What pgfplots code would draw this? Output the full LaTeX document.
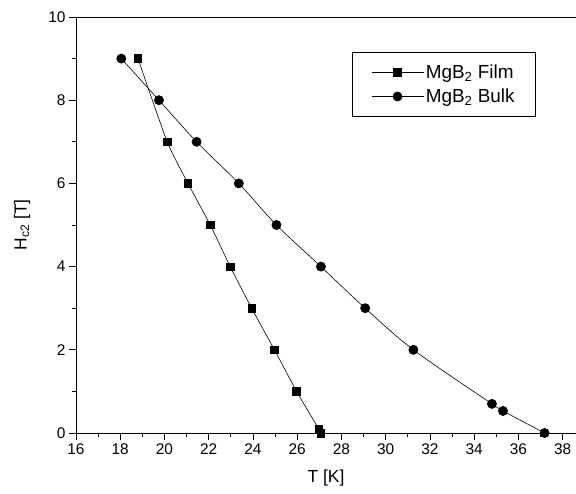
\documentclass[border=0pt]{standalone}
\usepackage{fontspec}
\setmainfont{Liberation Sans}
\usepackage{pgfplots}
\pgfplotsset{compat=1.18}
\begin{document}
\begin{tikzpicture}
\useasboundingbox (-76bp,-61bp) rectangle (500bp,433bp);
\begin{axis}[
  scale only axis, width=500bp, height=416bp,
  anchor=south west, at={(0,0)},
  xmin=16, xmax=38.6, ymin=0, ymax=10,
  axis x line*=box, axis y line*=left,
  xtick={16,18,...,38}, ytick={0,2,...,10},
  minor tick num=1,
  xtick pos=bottom, ytick pos=left,
  tick align=outside,
  major tick length=7bp, minor tick length=4bp,
  axis line style={line width=0.9pt},
  every tick/.style={line width=0.8pt, black},
  /pgf/number format/assume math mode=true,
  tick label style={font=\fontsize{15.5}{17}\selectfont},
  label style={font=\fontsize{17.5}{19}\selectfont},
  xlabel={T [K]},
  ylabel={H\textsubscript{c2} [T]},
  xlabel style={at={(axis description cs:0.5,-0.107)}, anchor=center},
  ylabel style={at={(axis description cs:-0.108,0.5)}, anchor=center},
  legend style={at={(0.92,0.915)}, anchor=north east, draw=black, line width=0.7pt,
    font=\fontsize{19}{21}\selectfont, inner xsep=19bp, inner ysep=10bp, row sep=5bp,
    /tikz/every even column/.append style={column sep=0bp}},
  legend cell align=left,
  legend image code/.code={
    \draw[mark repeat=2,mark phase=2,#1] plot coordinates {(0bp,0bp) (26bp,0bp) (52bp,0bp)};},
]
\addplot[black, line width=0.6pt, smooth, tension=0.3, mark=square*, mark size=3.8bp,
  mark options={solid, fill=black}] coordinates {
(18.8,9) (20.12,7) (21.06,6) (22.07,5) (22.97,4) (23.94,3) (24.97,2) (25.97,1) (26.97,0.1) (27.07,0)
};
\addlegendentry{MgB\textsubscript{2} Film}
\addplot[black, line width=0.6pt, smooth, tension=0.5, mark=*, mark size=4.6bp,
  mark options={solid, fill=black}] coordinates {
(18.05,9) (19.75,8) (21.45,7) (23.36,6) (25.06,5) (27.07,4) (29.07,3) (31.25,2) (34.8,0.7) (35.3,0.53) (37.18,0)
};
\addlegendentry{MgB\textsubscript{2} Bulk}
\end{axis}
\end{tikzpicture}
\end{document}
